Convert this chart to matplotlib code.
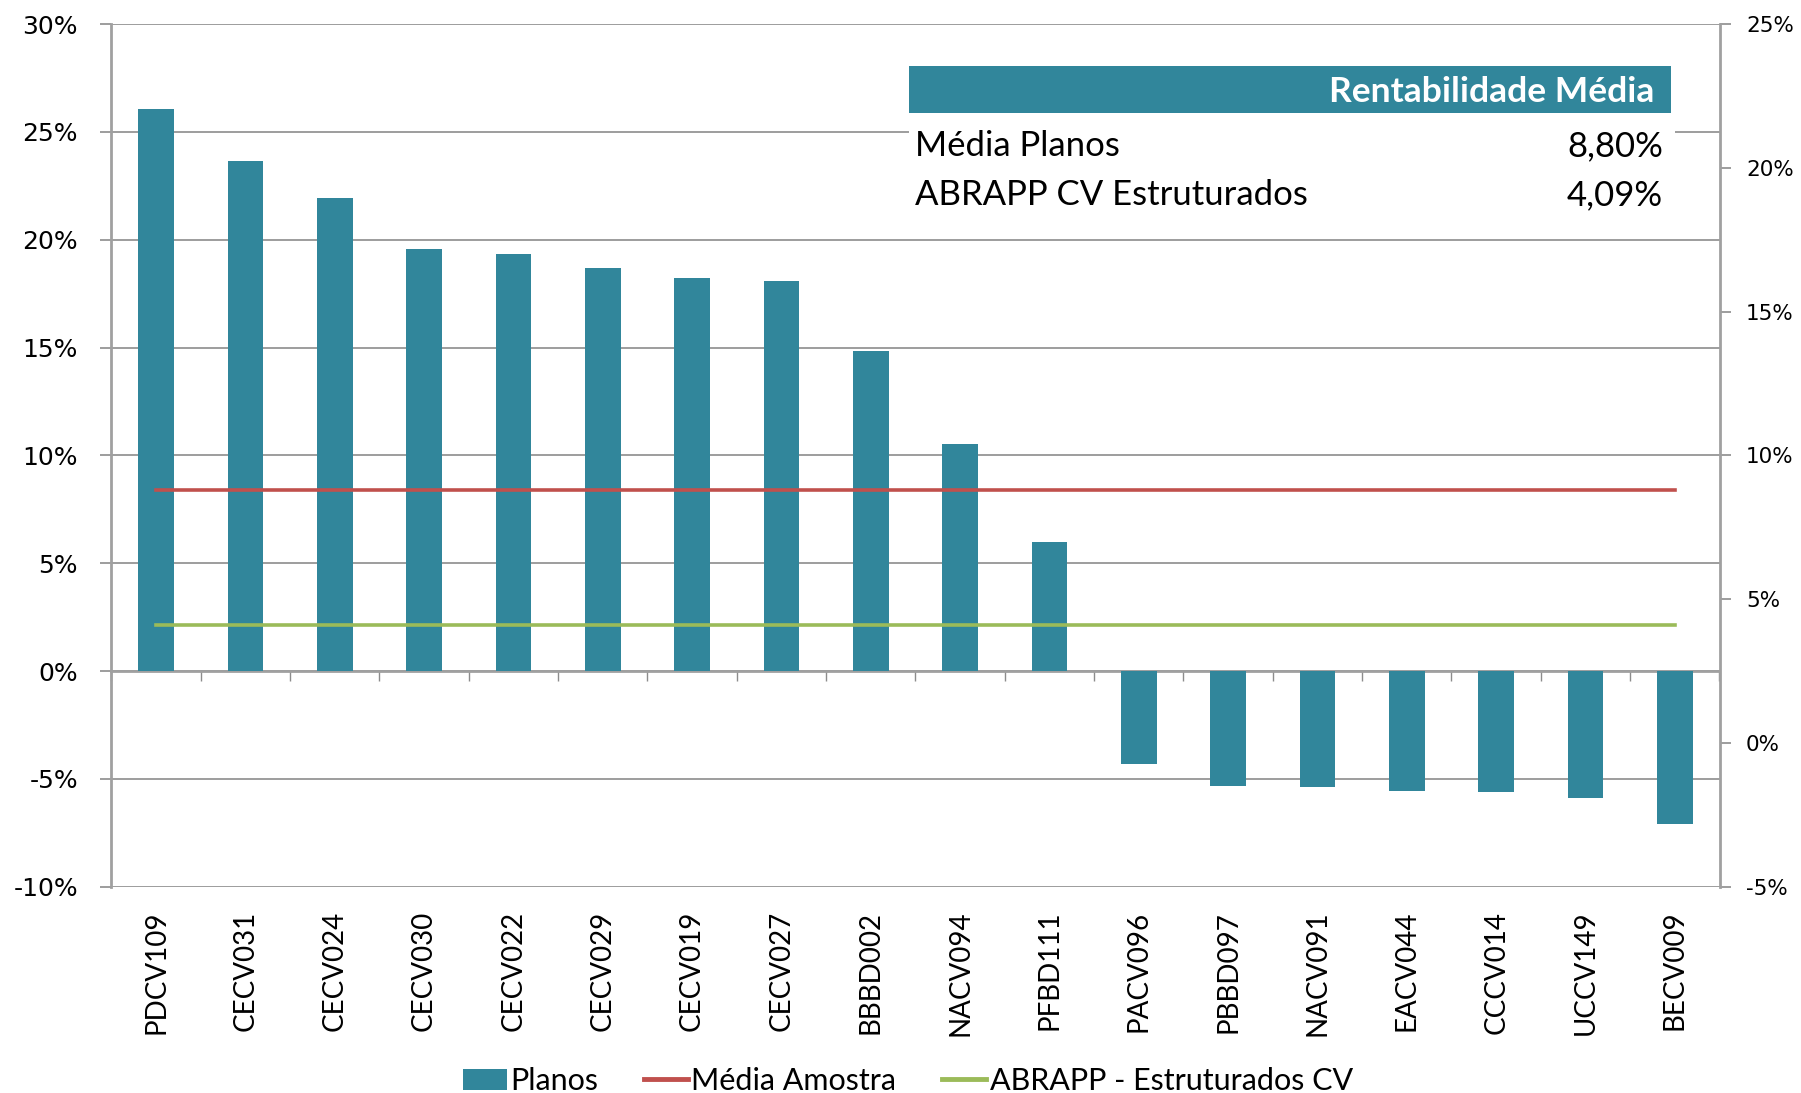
import numpy as np
import matplotlib
matplotlib.use("Agg")
import matplotlib.pyplot as plt
from matplotlib.patches import Patch, Rectangle
from matplotlib.lines import Line2D
from matplotlib import font_manager

# data
planos = ["PDCV109", "CECV031", "CECV024", "CECV030", "CECV022", "CECV029",
          "CECV019", "CECV027", "BBBD002", "NACV094", "PFBD111", "PACV096",
          "PBBD097", "NACV091", "EACV044", "CCCV014", "UCCV149", "BECV009"]
rentab = [26.05, 23.66, 21.95, 19.57, 19.36, 18.71, 18.23, 18.07, 14.82,
          10.51, 5.98, -4.30, -5.31, -5.36, -5.57, -5.62, -5.89, -7.11]
media_amostra = 8.80
abrapp_cv = 4.09
tabela_rotulos = ["Média Planos", "ABRAPP CV Estruturados"]
tabela_valores = ["8,80%", "4,09%"]
tabela_titulo = "Rentabilidade Média"
legenda = ["Planos", "Média Amostra", "ABRAPP - Estruturados CV"]

TEAL = "#31869B"
RED = "#C0504D"
GREEN = "#9BBB59"
GRID = "#8C8C8C"

installed = {f.name for f in font_manager.fontManager.ttflist}
narrow = "Liberation Sans Narrow" if "Liberation Sans Narrow" in installed else "Lato"
body = "Lato"

W, H = 1801, 1093
fig = plt.figure(figsize=(W / 100, H / 100), dpi=100)
ax = fig.add_axes([111.4 / W, 1 - 886.7 / H, (1719.5 - 111.4) / W, (886.7 - 24.1) / H])
ax2 = ax.twinx()

x = np.arange(len(planos))
ax.bar(x, rentab, width=0.4, color=TEAL, zorder=3)

ax.set_xlim(-0.5, len(planos) - 0.5)
ax.set_ylim(-10, 30)
ax.set_yticks(np.arange(-10, 31, 5))
ax.set_yticklabels([f"{v}%" for v in range(-10, 31, 5)], fontsize=18,
                   family="DejaVu Sans")
ax.grid(axis="y", color=GRID, linewidth=1.2, zorder=0)
ax.set_axisbelow(True)

ax.spines["top"].set_visible(False)
ax.spines["right"].set_visible(False)
ax.spines["left"].set_color("#A0A0A0")
ax.spines["left"].set_linewidth(2)
ax.spines["bottom"].set_position(("data", 0))
ax.spines["bottom"].set_color("#A0A0A0")
ax.spines["bottom"].set_linewidth(2)
ax.tick_params(axis="y", length=8, width=1.2, color=GRID, pad=16)
ax.set_xticks(np.arange(-0.5, len(planos), 1))
ax.tick_params(axis="x", length=7, width=1.0, color=GRID, labelbottom=False)

for xi, name in zip(x, planos):
    ax.text(xi, -0.028, name, transform=ax.get_xaxis_transform(), rotation=90,
            ha="center", va="top", fontsize=20, family=narrow)

# lines on secondary axis
ax2.plot(x, [media_amostra] * len(x), color=RED, lw=2.6, zorder=4)
ax2.plot(x, [abrapp_cv] * len(x), color=GREEN, lw=2.6, zorder=4)
ax2.set_ylim(-5, 25)
ax2.set_yticks(np.arange(-5, 26, 5))
ax2.set_yticklabels([f"{v}%" for v in range(-5, 26, 5)], fontsize=15.5,
                    family="DejaVu Sans")
ax2.tick_params(axis="y", length=8, width=1.2, color=GRID, pad=11)
for s in ["top", "bottom", "left"]:
    ax2.spines[s].set_visible(False)
ax2.spines["right"].set_color("#A0A0A0")
ax2.spines["right"].set_linewidth(2)

# summary table
x0, x1 = 908.6 / W, 1674.6 / W
fig.patches.append(Rectangle((x0, 1 - 218 / H), x1 - x0, (218 - 112.6) / H,
                             transform=fig.transFigure, facecolor="white",
                             edgecolor="none", zorder=5))
fig.patches.append(Rectangle((x0, 1 - 112.6 / H), 1671 / W - x0, (112.6 - 65.5) / H,
                             transform=fig.transFigure, facecolor=TEAL,
                             edgecolor="none", zorder=5))
fig.text(1654 / W, 1 - 92.5 / H, tabela_titulo, color="white", fontsize=25.5,
         fontweight="bold", family=body, ha="right", va="center", zorder=6)
for i, (lab, val) in enumerate(zip(tabela_rotulos, tabela_valores)):
    yy = 1 - (145.8 + i * 49.4) / H
    fig.text(915 / W, yy, lab, fontsize=25, family=body, ha="left", va="center", zorder=6)
    fig.text(1663 / W, yy, val, fontsize=25, family=body, ha="right", va="center", zorder=6)

handles = [Patch(facecolor=TEAL), Line2D([], [], color=RED, lw=3.5),
           Line2D([], [], color=GREEN, lw=3.5)]
fig.legend(handles, legenda, loc="center", bbox_to_anchor=(0.504, 1 - 1081 / H),
           ncol=3, frameon=False, prop={"family": body, "size": 22},
           handlelength=1.45, handletextpad=0.1, columnspacing=1.5)

fig.savefig("out.png", dpi=100)
